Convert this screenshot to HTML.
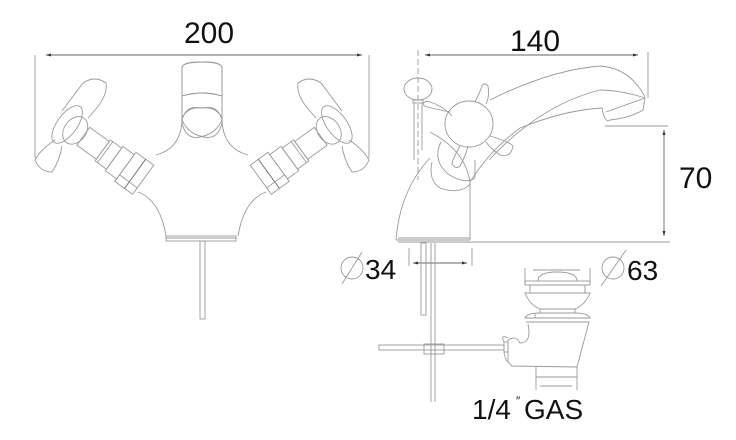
<!DOCTYPE html>
<html><head><meta charset="utf-8"><style>
html,body{margin:0;padding:0;background:#fff;}
svg{display:block}
text{font-family:"Liberation Sans",sans-serif;fill:#111}
</style></head><body>
<svg width="736" height="440" viewBox="0 0 736 440" xmlns="http://www.w3.org/2000/svg">
<g fill="none" stroke="#9a9a9a" stroke-width="0.9">
<line x1="35" y1="55" x2="35" y2="158"/>
<line x1="369" y1="55" x2="369" y2="158"/>
<line x1="46" y1="55" x2="362" y2="55" stroke="#666"/>
<g id="half">
<path d="M182 68 Q182 62 200 62 Q222 62 222 68 L222 123"/>
<path d="M182 68 L182 123 Q186 140 200 137 Q216 134 222 120"/>
<path d="M182 96 Q200 90 222 96"/>
<path d="M182 120 Q186 105 200 108 Q216 106 222 118"/>
<path d="M182 118 Q182 148 156 155"/>
<path d="M138 192 Q160 200 166 236"/>
<g transform="rotate(36 72 128)">
<rect x="86" y="117" width="24" height="22"/>
<rect x="110" y="115" width="14" height="26"/>
<line x1="113" y1="115" x2="113" y2="141"/>
<rect x="124" y="113" width="14" height="30"/>
<rect x="138" y="110" width="22" height="36"/>
<line x1="150" y1="110" x2="150" y2="146" stroke="#666"/>
<line x1="138" y1="138" x2="160" y2="138"/>
<ellipse cx="76" cy="128" rx="11" ry="15"/>
<ellipse cx="66" cy="128" rx="10" ry="22"/>
</g>
<path d="M62 111 L83 83 Q95 75 106 83 Q108 95 95 110 L88 118"/>
<path d="M55 140 Q40 150 35 160 Q40 172 52 172 Q60 160 62 146"/>
</g>
<use href="#half" transform="translate(404 0) scale(-1 1)"/>
<rect x="166" y="236" width="70" height="5"/>
<line x1="166" y1="238" x2="236" y2="238"/>
<rect x="200" y="241" width="5" height="78"/>

<line x1="418" y1="50" x2="418" y2="180" stroke-dasharray="6 3"/>
<line x1="425" y1="55" x2="638" y2="55" stroke="#666"/>
<line x1="648" y1="52" x2="648" y2="98"/>
<line x1="605" y1="126" x2="668" y2="126"/>
<line x1="664" y1="130" x2="664" y2="236" stroke="#666"/>
<line x1="398" y1="242" x2="670" y2="242"/>
<line x1="409" y1="248" x2="409" y2="266"/>
<line x1="472" y1="248" x2="472" y2="266"/>
<line x1="413" y1="263" x2="467" y2="263" stroke="#666"/>
<ellipse cx="418" cy="89" rx="14" ry="11"/>
<rect x="413" y="100" width="10" height="3"/>
<line x1="414" y1="103" x2="414" y2="160"/>
<line x1="422" y1="103" x2="422" y2="150"/>
<path d="M396 240 Q400 190 430 158"/>
<path d="M470 240 L470 182 Q465 150 430 132"/>
<path d="M396 240 L470 240"/>
<path d="M398 238 L470 238"/>
<path d="M489 160 Q540 105 600 90 Q620 90 645 98 L643 110 Q630 118 610 120 Q605 124 602 108 Q565 110 520 128 Q490 150 470 182"/>
<path d="M490 100 Q550 70 600 66 Q630 68 645 97"/>
<path d="M606 112 L645 98"/>
<ellipse cx="469" cy="124" rx="24" ry="23"/>
<path d="M475 102 Q480 92 482 86 Q484 82 488 86 Q490 96 486 104"/>
<path d="M450 112 Q430 108 424 106 Q422 100 430 102 Q443 106 452 116"/>
<path d="M490 136 Q510 142 513 146 Q511 158 500 155 Q490 148 486 142"/>
<path d="M460 146 Q452 160 452 164 Q456 170 460 166 Q466 155 468 146"/>
<path d="M441 142 Q432 160 448 174 Q465 185 475 178 L475 160"/>
<path d="M432 162 Q428 180 440 188 Q460 195 470 184"/>
<rect x="421" y="243" width="5" height="72"/>
<line x1="431" y1="243" x2="431" y2="402"/>
<line x1="435" y1="243" x2="435" y2="402"/>
<rect x="379" y="345" width="125" height="5"/>
<rect x="424" y="344" width="20" height="10"/>
<line x1="525" y1="268" x2="525" y2="285"/>
<line x1="590" y1="268" x2="590" y2="285"/>
<line x1="533" y1="270" x2="580" y2="270"/>
<path d="M538 281 Q538 272 557 272 Q577 272 577 281"/>
<rect x="525" y="281" width="65" height="4"/>
<rect x="530" y="285" width="55" height="8"/>
<path d="M525 293 L590 293 Q585 305 575 309 L540 309 Q530 305 525 293Z"/>
<rect x="540" y="309" width="35" height="4"/>
<path d="M525 318 Q527 313 540 313 L575 313 Q588 313 590 318Z"/>
<line x1="535" y1="313" x2="535" y2="318"/>
<path d="M526 322 L589 322 L577 367 L512 366 L508 362 L508 340 Q516 335 520 343 Q532 343 528 324"/>
<rect x="504" y="342" width="4" height="10"/>
<path d="M508 338 Q500 334 504 342"/>
<path d="M508 362 Q505 360 504 352"/>
<line x1="536" y1="367" x2="536" y2="390"/>
<line x1="577" y1="367" x2="577" y2="390"/>
<line x1="536" y1="377" x2="577" y2="377"/>
<line x1="540" y1="386" x2="572" y2="386"/>
<circle cx="352" cy="268" r="11"/>
<line x1="342" y1="284" x2="362" y2="252"/>
<circle cx="613" cy="268" r="11"/>
<line x1="601" y1="286" x2="626" y2="250"/>
</g>
<g fill="#333">
<path d="M46 55 l5 -1.5 v3z M362 55 l-5 -1.5 v3z"/>
<path d="M425 55 l5 -1.5 v3z M638 55 l-5 -1.5 v3z"/>
<path d="M664 130 l-1.5 5 h3z M664 236 l-1.5 -5 h3z"/>
<path d="M413 263 l5 -1.5 v3z M467 263 l-5 -1.5 v3z"/>
</g>
<text x="209" y="43" font-size="30" text-anchor="middle">200</text>
<text x="535" y="51" font-size="30" text-anchor="middle">140</text>
<text x="679" y="188" font-size="30">70</text>
<text x="365" y="279" font-size="28">34</text>
<text x="627" y="280" font-size="28">63</text>
<text x="472" y="419" font-size="28">1/4</text>
<text x="516" y="405" font-size="12" fill="#888">″</text>
<text x="524" y="419" font-size="28">GAS</text>
</svg>
</body></html>
